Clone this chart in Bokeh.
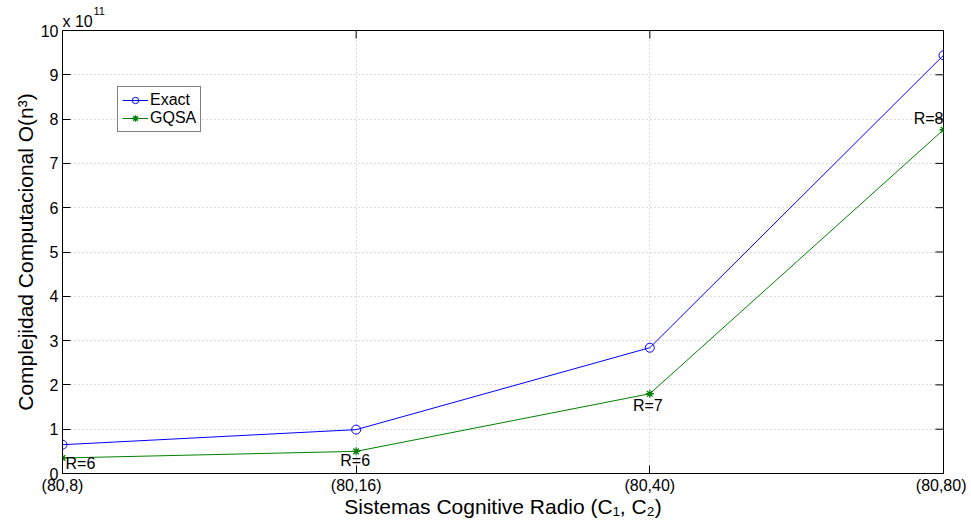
import math
from bokeh.plotting import figure
from bokeh.models import Range1d, FixedTicker, Legend, LegendItem, ColumnDataSource, Title
from bokeh.embed import file_html
from bokeh.resources import INLINE
from bokeh.core.properties import value

# ---- data ----
categories = ["(80,8)", "(80,16)", "(80,40)", "(80,80)"]
x_pos = [1, 2, 3, 4]
exact = [0.65, 0.99, 2.84, 9.44]
gqsa = [0.35, 0.50, 1.80, 7.76]
r_labels = ["R=6", "R=6", "R=7", "R=8"]
y_ticks = list(range(0, 11))

FONT = "Liberation Sans"
BLUE = "#0000ff"
GREEN = "#008000"

p = figure(width=966, height=520, output_backend="svg", toolbar_location=None,
           x_range=Range1d(x_pos[0], x_pos[-1]), y_range=Range1d(y_ticks[0], y_ticks[-1]),
           min_border_left=62, min_border_right=23, min_border_top=30, min_border_bottom=47)
p.background_fill_color = "white"
p.border_fill_color = "white"
p.outline_line_color = "black"
p.outline_line_width = 1

# axes
for ax in (p.xaxis[0], p.yaxis[0]):
    ax.major_tick_in = 8
    ax.major_tick_out = 0
    ax.minor_tick_line_color = None
    ax.axis_line_color = "black"
    ax.major_tick_line_color = "black"
    ax.major_label_text_font = FONT
    ax.major_label_text_font_size = "16px"
    ax.major_label_text_color = "black"
    ax.axis_label_text_font = FONT
    ax.axis_label_text_font_size = "21px"
    ax.axis_label_text_font_style = "normal"
    ax.axis_label_text_color = "black"

p.xaxis.ticker = FixedTicker(ticks=x_pos)
p.xaxis.major_label_overrides = {x: c for x, c in zip(x_pos, categories)}
p.xaxis.major_label_standoff = 3
p.xaxis.axis_label = "Sistemas Cognitive Radio (C\u2081, C\u2082)"
p.xaxis.axis_label_standoff = -2

p.yaxis.ticker = FixedTicker(ticks=y_ticks)
p.yaxis.major_label_standoff = 4
p.yaxis.axis_label = "Complejidad Computacional O(n\u00b3)"
p.yaxis.axis_label_standoff = 1

# grid
for g in (p.xgrid[0], p.ygrid[0]):
    g.grid_line_color = "#b4b4b4"
    g.grid_line_dash = "1 3"
    g.grid_line_width = 1
p.xgrid.ticker = FixedTicker(ticks=x_pos)
p.ygrid.ticker = FixedTicker(ticks=y_ticks)

# mirrored inward ticks on the top and right edges of the box
p.ray(x=[x_pos[-1]] * len(y_ticks), y=y_ticks, length=8, length_units="screen",
      angle=math.pi, line_color="black", line_width=1)
p.ray(x=x_pos, y=[y_ticks[-1]] * len(x_pos), length=8, length_units="screen",
      angle=-math.pi / 2, line_color="black", line_width=1)

# series
src = ColumnDataSource(dict(x=x_pos, exact=exact, gqsa=gqsa, lab=r_labels,
                            align=["left", "center", "center", "right"],
                            xo=[3, -1, -2, 0], yo=[6, 9, 12, -11]))
l1 = p.line("x", "exact", source=src, line_color=BLUE, line_width=1)
m1 = p.scatter("x", "exact", source=src, marker="circle", size=9,
               line_color=BLUE, fill_color=None, line_width=1)
l2 = p.line("x", "gqsa", source=src, line_color=GREEN, line_width=1)
m2 = p.scatter("x", "gqsa", source=src, marker="asterisk", size=8,
               line_color=GREEN, line_width=1.3)

p.text("x", "gqsa", text="lab", source=src, text_align="align", text_baseline="middle",
       x_offset="xo", y_offset="yo", text_font=value(FONT), text_font_size="16px",
       text_color="black")

# exponent label above the axis: "x 10" with a raised, smaller "11"
p.add_layout(Title(text="x 10", align="left", text_font=FONT,
                   text_font_size="16px", text_font_style="normal", text_color="black",
                   standoff=1, offset=0), "above")
p.add_layout(Title(text="11", align="left", text_font=FONT,
                   text_font_size="11px", text_font_style="normal", text_color="black",
                   standoff=-9, offset=31), "above")

legend = Legend(items=[LegendItem(label="Exact", renderers=[l1, m1]),
                       LegendItem(label="GQSA", renderers=[l2, m2])],
                location=(55, 341))
legend.label_text_font = FONT
legend.label_text_font_size = "16px"
legend.label_text_color = "black"
legend.glyph_width = 26
legend.glyph_height = 16
legend.label_height = 16
legend.label_standoff = 2
legend.padding = 4
legend.spacing = 0
legend.margin = 0
legend.border_line_color = "black"
legend.border_line_width = 1
legend.background_fill_color = "white"
legend.background_fill_alpha = 1
p.add_layout(legend, "center")

open("out.html", "w").write(file_html(p, INLINE))
